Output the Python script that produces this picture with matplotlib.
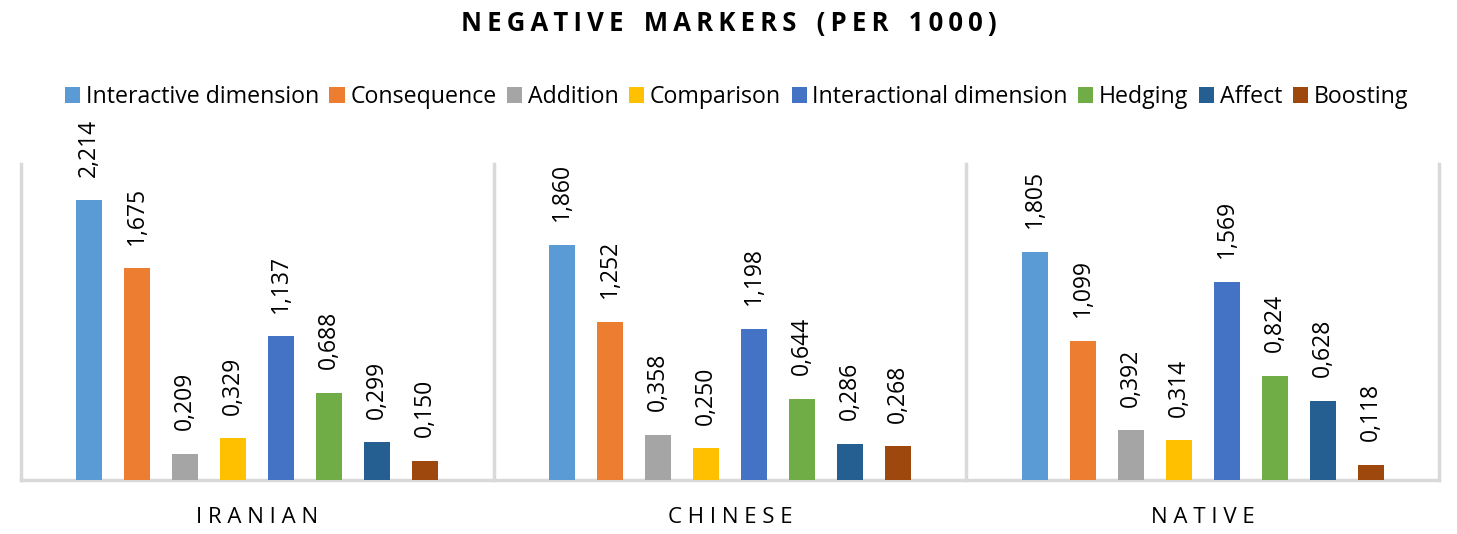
import numpy as np
import matplotlib.pyplot as plt

groups = ["IRANIAN", "CHINESE", "NATIVE"]
series = ["Interactive dimension", "Consequence", "Addition", "Comparison",
          "Interactional dimension", "Hedging", "Affect", "Boosting"]
colors = ["#5B9BD5", "#ED7D31", "#A5A5A5", "#FFC000",
          "#4472C4", "#70AD47", "#255E91", "#9E480E"]

iranian = [2.214, 1.675, 0.209, 0.329, 1.137, 0.688, 0.299, 0.150]
chinese = [1.860, 1.252, 0.358, 0.250, 1.198, 0.644, 0.286, 0.268]
native = [1.805, 1.099, 0.392, 0.314, 1.569, 0.824, 0.628, 0.118]
values = np.array([iranian, chinese, native])

plt.rcParams['font.family'] = ['Open Sans', 'DejaVu Sans']

fig = plt.figure(figsize=(14.57, 5.34), dpi=100)
ax = fig.add_axes([21 / 1457, 54 / 534, 1418 / 1457, 316 / 534])

grp = 1418 / 3
step = 48 / grp
width = 26 / grp
x = np.arange(len(groups))
bars = []
for j, name in enumerate(series):
    pos = x + (j - 3.5) * step
    b = ax.bar(pos, values[:, j], width, color=colors[j], label=name, zorder=3)
    bars.append(b)
    for px, v in zip(pos, values[:, j]):
        ax.annotate(f"{v:.3f}".replace(".", ","), (px, v), xytext=(0, 17),
                    textcoords="offset points", rotation=90, ha="center",
                    va="bottom", fontsize=16.5, color="#000000")

ax.set_xlim(-0.5, 2.5)
ax.set_ylim(0, 2.5)
ax.set_yticks([])
ax.set_xticks([])
for s in ["top", "left", "right"]:
    ax.spines[s].set_visible(False)
ax.spines["bottom"].set_color("#D9D9D9")
ax.spines["bottom"].set_linewidth(2.5)
for sep in [-0.5, 0.5, 1.5, 2.5]:
    ax.axvline(sep, color="#D9D9D9", lw=2.5, zorder=1, clip_on=False)

for i, g in enumerate(groups):
    ax.text(i, -0.12, " ".join(g), transform=ax.get_xaxis_transform(),
            ha="center", va="center", fontsize=16, color="#000000")

title = "   ".join("\u2009".join(w) for w in "NEGATIVE MARKERS (PER 1000)".split(" "))
fig.text(0.5, 1 - 24 / 534, title, ha="center", va="center",
         fontsize=18.5, fontweight="bold", color="#000000")

fig.legend(handles=bars, labels=series, loc="center", ncol=8,
           bbox_to_anchor=(736.5 / 1457, 1 - 97 / 534), frameon=False, fontsize=16.7,
           handlelength=0.65, handleheight=0.65, handletextpad=0.25,
           columnspacing=0.45)

fig.savefig("out.png", dpi=100)
